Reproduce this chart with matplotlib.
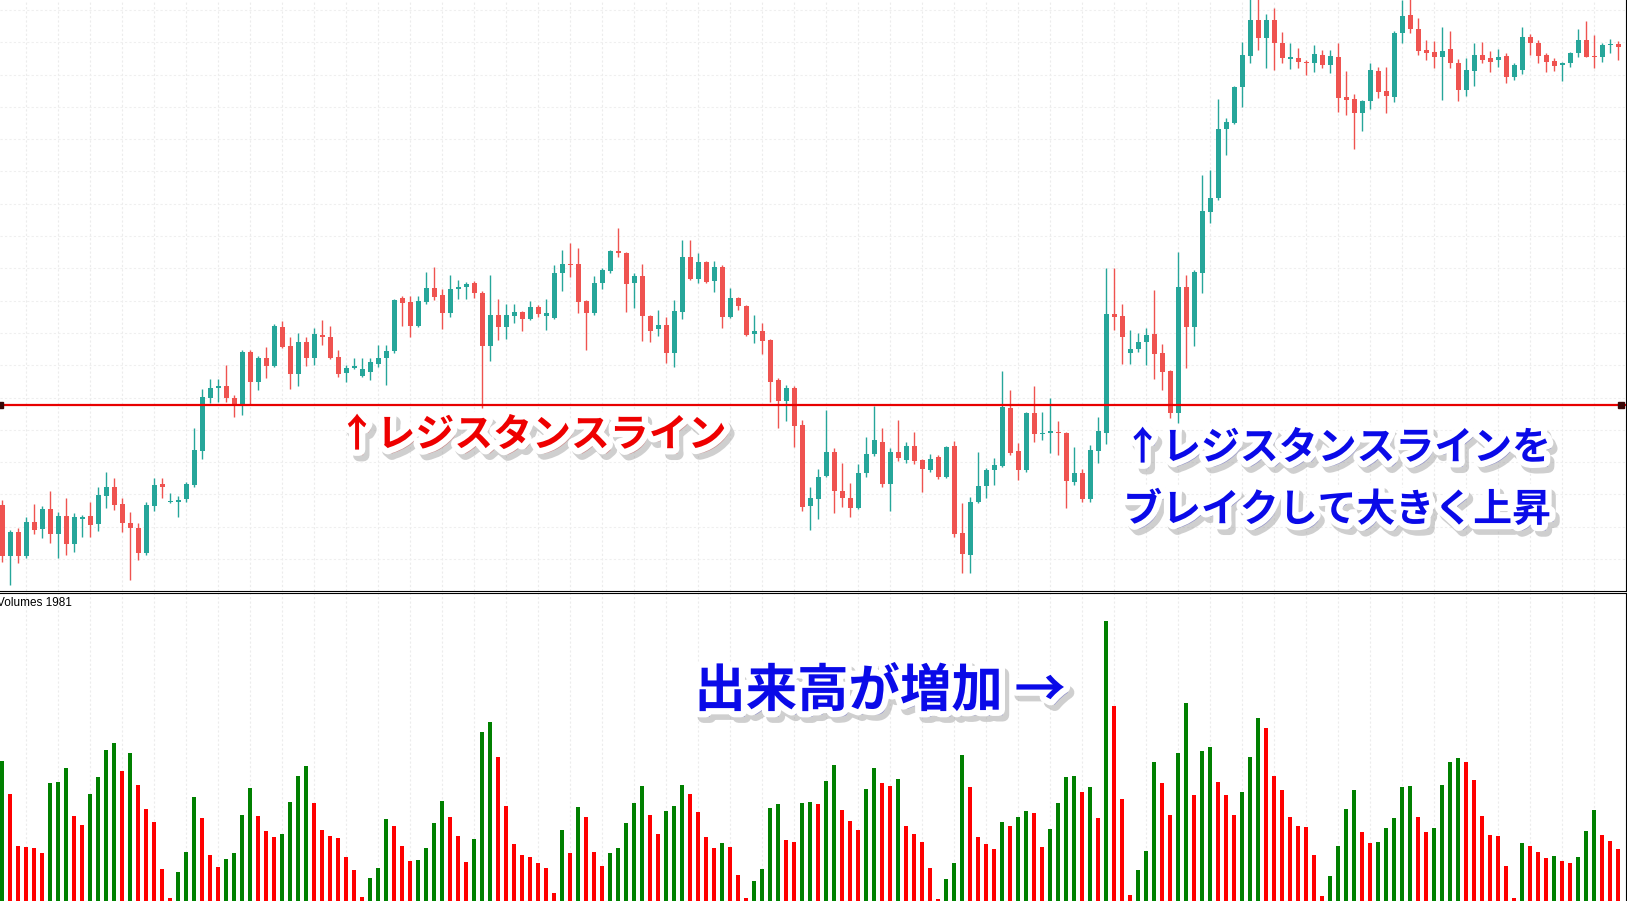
import matplotlib.pyplot as plt
import matplotlib.patheffects as pe
import numpy as np

plt.rcParams["font.family"] = ["Noto Sans CJK JP", "DejaVu Sans"]

# ローソク足 (始値・高値・安値・終値), 203本
opens = [95, 44, 68, 44, 78, 71, 91, 66, 84, 56,
         81, 84, 76, 104, 113, 96, 77, 72, 47, 94,
         116, 98, 98, 101, 115, 149, 202, 212.5, 214, 202,
         196, 248, 218, 242, 234, 273, 254, 226, 258, 242,
         265, 263, 243, 227, 232, 224, 228, 236, 242, 249,
         302, 298, 274, 298, 312, 305, 287, 311, 313, 317,
         307, 254, 285, 273, 284, 288, 281, 293, 284, 282,
         327, 336, 336, 299, 287, 317, 329, 349, 347, 317,
         324, 284, 271, 275, 247, 288, 343, 321, 338, 319,
         333, 283, 302, 294, 266, 269, 260, 220, 199, 212,
         175, 94, 101, 124, 148, 109, 102, 92, 127, 146,
         158, 116, 148, 140, 154, 140, 130, 143, 123, 154,
         67, 45, 98, 114, 130, 134, 192, 149, 130, 187,
         166, 167.5, 168, 167, 118, 127, 101, 149, 167, 286,
         284, 247, 251, 258, 266, 247, 229, 187, 313, 273,
         327, 388, 402, 471, 477, 513, 544, 580, 562, 580,
         557, 541.5, 542, 538, 537, 545, 535, 543, 503, 501,
         487, 499, 529, 509, 503, 567, 585, 571, 550, 548,
         543, 551, 537, 510, 529, 545, 542, 540, 544, 523,
         530, 563, 557, 545, 539, 535, 537, 547, 560, 544,
         543, 555, 556]
highs = [100, 70, 72, 83, 96, 94, 109, 88, 102, 87,
         85, 98, 113, 128, 122, 102, 88, 77, 98, 122,
         122, 107, 104, 118, 172, 211, 221, 221, 235, 205,
         250, 250, 244, 253, 276, 279, 263, 267, 263, 272,
         280, 274, 250, 235, 242, 242, 242, 255, 255, 301,
         304, 304, 304, 328, 333, 311, 325, 320, 318, 319,
         309, 325, 301, 296, 296, 289, 299, 295, 301, 335,
         350, 357, 352, 300, 324, 332, 350, 372, 348, 327,
         336, 285, 290, 283, 300, 360, 360, 347, 339, 339,
         335, 312, 303, 295, 285, 277, 261, 222, 215, 214,
         180, 113, 131, 190, 152, 137, 117, 136, 163, 194,
         172, 152, 180, 158, 168, 141, 146, 145, 154, 159,
         97, 103, 148, 132, 142, 229, 210, 157, 188, 214,
         188, 202, 179, 168, 153, 131, 155, 183, 332, 332,
         296, 270, 267, 272, 310, 256, 230, 348, 325, 330,
         425, 430, 501, 482, 514, 558, 602, 602, 586, 592,
         568, 557, 552, 540, 555, 550, 550, 557, 529, 506,
         500, 537, 533, 533, 569, 600, 601, 582, 560, 559,
         573, 569, 541, 542, 557, 558, 549, 551, 547, 537,
         573, 566, 560, 547, 542, 538, 548, 571, 579, 565,
         557, 561, 559]
lows = [38, 15, 37, 42, 66, 62, 57, 42, 45, 48,
        63, 63, 69, 92, 90, 68, 20, 40, 45, 89,
        102, 97, 83, 98, 113, 141, 197, 198, 198, 183,
        185, 195, 210, 222, 233, 252, 211, 214, 234, 235,
        255, 241, 223, 218, 231, 223, 220, 233, 215, 247,
        274, 263, 273, 296, 300, 271, 283, 301, 301, 302,
        192, 239, 260, 261, 277, 269, 280, 283, 270, 281,
        309, 323, 287, 250, 285, 311, 327, 343, 288, 292,
        259, 258, 264, 237, 233, 281, 320, 317, 317, 308,
        272, 282, 290, 264, 257, 246, 198, 172, 179, 153,
        89, 70, 81, 123, 87, 93, 83, 91, 123, 144,
        113, 89, 139, 137, 136, 108, 128, 121, 122, 63,
        27, 27, 97, 102, 115, 133, 145, 120, 128, 158,
        160, 147, 145, 92, 115, 98, 98, 137, 156, 270,
        236, 236, 248, 235, 221, 210, 182, 177, 232, 254,
        307, 377, 400, 445, 476, 493, 537, 550, 532, 530,
        537, 531, 532, 525, 528, 532, 527, 488, 485, 451,
        469, 491, 502, 487, 498, 557, 567, 545, 540, 532,
        500, 532, 499, 504, 514, 537, 528, 533, 517, 520,
        526, 545, 537, 528, 529, 519, 533, 543, 543, 532,
        538, 547, 540]
closes = [44, 68, 44, 78, 70, 91, 66, 84, 56, 83,
          83, 75, 105, 113, 95, 77, 72, 47, 95, 115,
          113, 99, 100, 116, 150, 203, 212, 214, 202, 194,
          248, 218, 242, 234, 274, 253, 226, 258, 242, 266,
          263, 242, 226, 232, 234, 231, 238, 242, 249, 300,
          297, 274, 299, 312, 303, 287, 311, 313, 316, 307,
          254, 285, 273, 285, 288, 281, 293, 286, 287, 327,
          336, 335, 298, 287, 317, 330, 349, 347, 316, 324,
          284, 269, 275, 247, 289, 343, 321, 338, 318, 333,
          283, 302, 294, 265, 269, 259, 218, 199, 212, 174,
          93, 102, 123, 148, 109, 102, 92, 127, 146, 160,
          116, 148, 142, 154, 139, 131, 141, 123, 153, 66,
          46, 98, 114, 130, 135, 193, 147, 130, 187, 166,
          167, 168, 167, 119, 127, 101, 150, 169, 286, 283,
          263, 251, 258, 265, 246, 228, 187, 313, 273, 328,
          389, 402, 471, 478, 513, 545, 580, 562, 580, 557,
          542, 542, 538, 537, 546, 535, 544, 502, 500, 487,
          499, 530, 508, 504, 567, 584, 571, 549, 547, 543,
          549, 537, 510, 530, 545, 540, 538, 543, 523, 535,
          563, 557, 544, 538, 534, 537, 547, 560, 543, 543,
          555, 556, 553]

# 出来高
volumes = [140, 107, 55, 54, 53, 48, 118, 119, 133, 85,
           76, 107, 124, 151, 158, 130, 148, 116, 92, 79,
           32, 3, 29, 49, 104, 83, 46, 34, 42, 48,
           86, 113, 85, 70, 64, 67, 99, 125, 135, 98,
           71, 65, 63, 44, 31, 4, 23, 33, 82, 75,
           55, 40, 41, 53, 78, 100, 84, 65, 39, 62,
           169, 179, 144, 95, 57, 46, 44, 38, 33, 8,
           71, 48, 94, 84, 49, 35, 48, 53, 78, 98,
           115, 86, 67, 90, 95, 116, 107, 89, 64, 53,
           58, 54, 26, 3, 20, 32, 93, 97, 61, 59,
           98, 99, 97, 120, 136, 91, 80, 71, 112, 133,
           118, 115, 122, 75, 67, 59, 33, 2, 22, 38,
           146, 114, 64, 57, 52, 79, 75, 84, 90, 88,
           54, 72, 98, 124, 125, 109, 114, 83, 280, 195,
           102, 6, 31, 50, 139, 118, 86, 148, 198, 106,
           150, 154, 119, 106, 86, 109, 144, 183, 173, 125,
           111, 84, 75, 74, 46, 5, 25, 55, 92, 111,
           69, 58, 59, 73, 83, 114, 115, 84, 69, 73,
           116, 139, 143, 139, 121, 85, 66, 65, 35, 3,
           58, 55, 49, 43, 45, 40, 38, 44, 70, 91,
           66, 60, 52]

resistance = 195
volume_label = "Volumes 1981"

o = np.array(opens, dtype=float)
h = np.array(highs, dtype=float)
l = np.array(lows, dtype=float)
c = np.array(closes, dtype=float)
v = np.array(volumes, dtype=float)
x = np.arange(len(o))

up = c > o
candle_cols = np.where(up, "#26a69a", "#ef5350")
vol_up = np.concatenate([[True], v[1:] > v[:-1]])
vol_cols = np.where(vol_up, "#008000", "#ff0000")

W, H = 1627, 901
fig = plt.figure(figsize=(W / 100, H / 100), dpi=100)
ax = fig.add_axes([0, 310 / H, 1626 / W, 591 / H])
axv = fig.add_axes([0, 0, 1626 / W, 308 / H])

xlim = (-0.3125, 202.94)

# グリッド
for a in (ax, axv):
    for gx in np.arange(3, 204, 4):
        a.axvline(gx, color="#ececec", lw=0.8, ls=(0, (2, 2)), zorder=0)
for gy in np.arange(590, 0, -32.3):
    ax.axhline(gy, color="#efefef", lw=0.8, ls=(0, (2, 2)), zorder=0)

# ローソク足
ax.vlines(x, l, h, colors=candle_cols, lw=1, zorder=2)
ax.bar(x, np.maximum(np.abs(c - o), 1.3), bottom=np.minimum(o, c), width=0.6,
       color=candle_cols, lw=0, zorder=3)

# レジスタンスライン
ax.axhline(resistance, color="#e80000", lw=1.6, zorder=5)
ax.plot([-0.25, 202.3], [resistance, resistance], "s", ms=4, color="#3a0808", zorder=6)

ax.set_xlim(*xlim)
ax.set_ylim(9, 600)

# 出来高
axv.bar(x, v, width=0.5, color=vol_cols, lw=0, zorder=2)
axv.set_xlim(*xlim)
axv.set_ylim(0, 308)

for a in (ax, axv):
    a.set_xticks([])
    a.set_yticks([])
    for s in a.spines.values():
        s.set_visible(False)
    a.spines["right"].set_visible(True)
    a.spines["right"].set_color("black")
ax.spines["bottom"].set_visible(True)
ax.spines["bottom"].set_color("black")
axv.spines["top"].set_visible(True)
axv.spines["top"].set_color("black")

fig.text(-3 / W, 1 - 603 / H, volume_label, fontsize=8.5, family="Liberation Sans",
         va="center", ha="left", color="black")

fx = [pe.Stroke(linewidth=9, foreground="#a0a0a0", alpha=0.5, offset=(3, -4)),
      pe.Stroke(linewidth=9, foreground="white"),
      pe.Normal()]

fig.text(532 / W, 1 - 435 / H, "↑レジスタンスライン", fontsize=28, weight="bold",
         color="#ee0000", ha="center", va="center", path_effects=fx, zorder=10)
fig.text(1337 / W, 1 - 448 / H, "↑レジスタンスラインを", fontsize=28, weight="bold",
         color="#0a0ae8", ha="center", va="center", path_effects=fx, zorder=10)
fig.text(1337 / W, 1 - 510 / H, "ブレイクして大きく上昇", fontsize=28, weight="bold",
         color="#0a0ae8", ha="center", va="center", path_effects=fx, zorder=10)
fig.text(880 / W, 1 - 691 / H, "出来高が増加 →", fontsize=37, weight="bold",
         color="#0a0ae8", ha="center", va="center", path_effects=fx, zorder=10)

fig.savefig("out.png", dpi=100)
